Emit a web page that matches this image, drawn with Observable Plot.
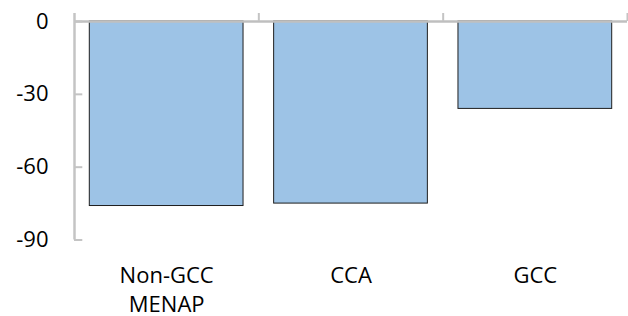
<!DOCTYPE html>
<html>
<head>
<meta charset="utf-8">
<script src="https://cdn.jsdelivr.net/npm/d3@7"></script>
<script src="https://cdn.jsdelivr.net/npm/@observablehq/plot@0.6"></script>
<style>
  html, body { margin: 0; padding: 0; background: #fff; }
  #chart svg { display: block; }
</style>
</head>
<body>
<div id="chart"></div>
<script>
const categories = ["Non-GCC\nMENAP", "CCA", "GCC"];
const values = [-76, -75, -36];
const yTicks = [0, -30, -60, -90];

const data = categories.map((c, i) => ({category: c, index: i, value: values[i]}));
const boundaries = categories.map((c, i) => i + 1);
const gap = 0.083;

const plot = Plot.plot({
  width: 628,
  height: 316,
  marginLeft: 74,
  marginRight: 1,
  marginTop: 13,
  marginBottom: 76.5,
  style: {fontFamily: "'Open Sans', sans-serif", fontSize: "22px", color: "#000", background: "#fff"},
  x: {type: "linear", domain: [0, categories.length], axis: null},
  y: {domain: [-90, 3.3], axis: null},
  marks: [
    Plot.rectY(data, {
      x1: d => d.index + gap,
      x2: d => d.index + 1 - gap,
      y1: 0,
      y2: "value",
      fill: "#9dc3e6",
      stroke: "#1e1e1e",
      strokeWidth: 1
    }),
    Plot.ruleY([0], {x1: 0, x2: categories.length, stroke: "#bfbfbf", strokeWidth: 2.5}),
    Plot.ruleX(boundaries, {y1: 0, y2: 3.3, stroke: "#c4c4c4", strokeWidth: 2}),
    Plot.ruleX([0], {y1: -90, y2: 3.3, stroke: "#c4c4c4", strokeWidth: 2.5}),
    Plot.ruleY(yTicks, {x1: 0, x2: 0.045, stroke: "#c4c4c4", strokeWidth: 2}),
    Plot.axisY({
      ticks: yTicks,
      tickSize: 0,
      tickPadding: 26,
      tickFormat: d => String(d),
      label: null,
      fill: "#000"
    }),
    Plot.axisX({
      ticks: categories.map((c, i) => i + 0.5),
      tickFormat: (d) => categories[Math.floor(d)],
      tickSize: 0,
      tickPadding: 23,
      lineHeight: 1.3,
      label: null,
      fill: "#000"
    })
  ]
});
document.getElementById("chart").appendChild(plot);
</script>
</body>
</html>
